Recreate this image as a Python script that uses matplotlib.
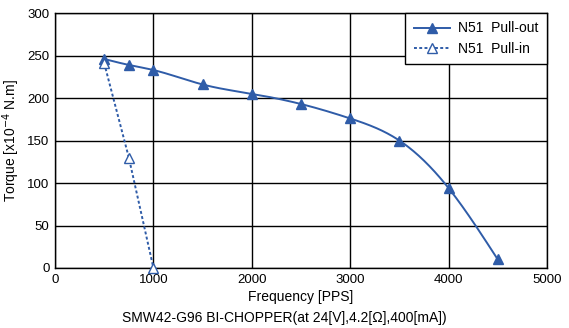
import numpy as np
import matplotlib
matplotlib.use("Agg")
import matplotlib.pyplot as plt

plt.rcParams['font.family'] = ['Liberation Sans', 'DejaVu Sans']

# Pull-out curve
pullout_freq = [500, 750, 1000, 1500, 2000, 2500, 3000, 3500, 4000, 4500]
pullout_torque = [246, 239, 233, 216, 205, 193, 176, 150, 94, 10]

# Pull-in curve
pullin_freq = [500, 750, 1000]
pullin_torque = [241, 130, 0]

BLUE = '#2f5ca8'


def natural_spline(x, y, n=300):
    # natural cubic spline through the points, only for a smooth line
    x = np.asarray(x, float)
    y = np.asarray(y, float)
    k = len(x)
    h = np.diff(x)
    A = np.zeros((k, k))
    b = np.zeros(k)
    A[0, 0] = A[-1, -1] = 1
    for i in range(1, k - 1):
        A[i, i - 1] = h[i - 1]
        A[i, i] = 2 * (h[i - 1] + h[i])
        A[i, i + 1] = h[i]
        b[i] = 3 * ((y[i + 1] - y[i]) / h[i] - (y[i] - y[i - 1]) / h[i - 1])
    c = np.linalg.solve(A, b)
    xs = np.linspace(x[0], x[-1], n)
    ys = np.empty_like(xs)
    for j, xv in enumerate(xs):
        i = min(np.searchsorted(x, xv, side='right') - 1, k - 2)
        dx = xv - x[i]
        bi = (y[i + 1] - y[i]) / h[i] - h[i] * (2 * c[i] + c[i + 1]) / 3
        di = (c[i + 1] - c[i]) / (3 * h[i])
        ys[j] = y[i] + bi * dx + c[i] * dx ** 2 + di * dx ** 3
    return xs, ys


fig = plt.figure(figsize=(5.69, 3.28), dpi=100)
ax = fig.add_axes([0.0967, 0.183, 0.8646, 0.777])

sx, sy = natural_spline(pullout_freq, pullout_torque)
ax.plot(sx, sy, color=BLUE, lw=1.4, zorder=3)
ax.plot(pullout_freq, pullout_torque, ls='none', marker='^', ms=6.5,
        color=BLUE, zorder=4, clip_on=False)
ax.plot([], [], color=BLUE, lw=1.4, marker='^', ms=6.5, label='N51  Pull-out')

ax.plot(pullin_freq, pullin_torque, ls=(0, (1.5, 1.2)), lw=1.4, color=BLUE,
        marker='^', ms=6.5, mfc='white', mec=BLUE, zorder=4, clip_on=False,
        label='N51  Pull-in')

ax.set_xlim(0, 5000)
ax.set_ylim(0, 300)
ax.set_xticks(range(0, 5001, 1000))
ax.set_yticks(range(0, 301, 50))
ax.grid(True, color='black', lw=1)
ax.set_axisbelow(True)
ax.tick_params(length=0, labelsize=9.5, pad=4)
for s in ax.spines.values():
    s.set_color('black')
    s.set_linewidth(1)

ax.set_xlabel('Frequency [PPS]', fontsize=10, labelpad=3)
ax.set_ylabel(r'Torque [x10$^{-4}$ N.m]', fontsize=10, labelpad=4)
fig.text(0.5, 0.03, 'SMW42-G96 BI-CHOPPER(at 24[V],4.2[\u03a9],400[mA])',
         ha='center', va='center', fontsize=10)

leg = ax.legend(loc='upper right', borderaxespad=0, fancybox=False,
                framealpha=1, edgecolor='black', fontsize=10,
                handlelength=2.6, handletextpad=0.6, borderpad=0.6,
                labelspacing=0.45)
leg.get_frame().set_linewidth(1)
leg.set_zorder(5)

fig.savefig('out.png', dpi=100)
